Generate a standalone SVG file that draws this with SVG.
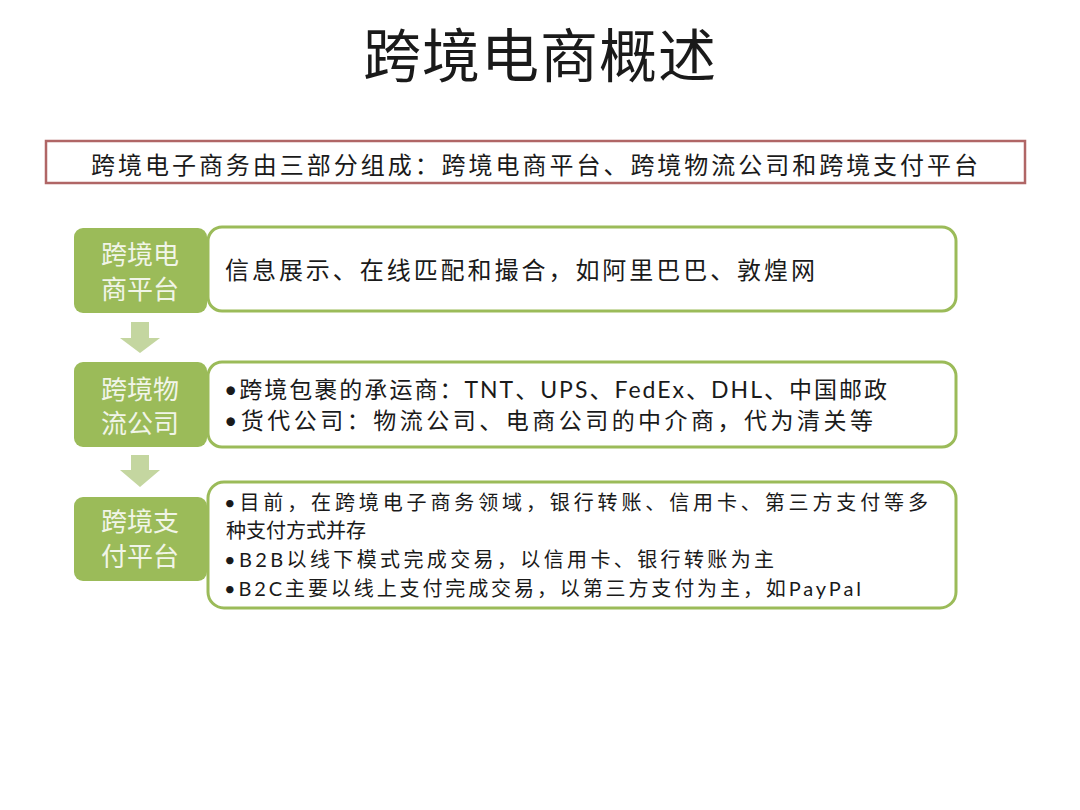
<svg xmlns="http://www.w3.org/2000/svg" width="1080" height="810" viewBox="0 0 1080 810">
<style>
.cjk{font-family:"Noto Sans CJK SC","Noto Sans",sans-serif;fill:#1a1a1a}
.mix{font-family:Lato,"Noto Sans CJK SC",sans-serif;fill:#1a1a1a}
.lbl{font-family:"Noto Sans CJK SC","Noto Sans",sans-serif;fill:#f1f5e8;font-size:26px;text-anchor:middle;dominant-baseline:central}
.gbox{fill:#9bbb59}
.wbox{fill:#ffffff;stroke:#9bbb59;stroke-width:3}
.arrow{fill:#c4d6a0}
</style>
<rect width="1080" height="810" fill="#ffffff"/>
<g id="title">
<text class="cjk" x="540" y="52" font-size="58" text-anchor="middle" dominant-baseline="central" fill="#111" letter-spacing="1">跨境电商概述</text>
</g>
<g id="summary">
<rect x="46" y="141" width="979" height="42" fill="#ffffff" stroke="#b06666" stroke-width="2.5"/>
<text class="cjk" x="91" y="163" font-size="24" dominant-baseline="central" textLength="887" lengthAdjust="spacing">跨境电子商务由三部分组成：跨境电商平台、跨境物流公司和跨境支付平台</text>
</g>
<g id="connectors">
<polygon class="arrow" points="131,322 149,322 149,338 160,338 140,353 120,338 131,338"/>
<polygon class="arrow" points="131,455 149,455 149,470 160,470 140,487 120,470 131,470"/>
</g>
<g id="node-platform">
<rect class="wbox" x="208" y="227" width="748" height="84" rx="14"/>
<rect class="gbox" x="74" y="228" width="133" height="85" rx="9"/>
<text class="lbl" x="140" y="252">跨境电</text>
<text class="lbl" x="140" y="287">商平台</text>
<text class="cjk" x="225" y="268" font-size="24" dominant-baseline="central" textLength="590" lengthAdjust="spacing">信息展示、在线匹配和撮合，如阿里巴巴、敦煌网</text>
</g>
<g id="node-logistics">
<rect class="wbox" x="208" y="362" width="748" height="85" rx="14"/>
<rect class="gbox" x="74" y="362" width="133" height="85" rx="9"/>
<text class="lbl" x="140" y="387">跨境物</text>
<text class="lbl" x="140" y="421">流公司</text>
<text class="mix" x="224" y="389" font-size="23" dominant-baseline="central" textLength="663" lengthAdjust="spacing">•跨境包裹的承运商：TNT、UPS、FedEx、DHL、中国邮政</text>
<text class="mix" x="224" y="420" font-size="23" dominant-baseline="central" textLength="649" lengthAdjust="spacing">•货代公司：物流公司、电商公司的中介商，代为清关等</text>
</g>
<g id="node-payment">
<rect class="wbox" x="208" y="482" width="748" height="126" rx="16"/>
<rect class="gbox" x="74" y="497" width="133" height="84" rx="9"/>
<text class="lbl" x="140" y="519.5">跨境支</text>
<text class="lbl" x="140" y="554">付平台</text>
<text class="mix" x="224" y="502" font-size="20" dominant-baseline="central" textLength="704" lengthAdjust="spacing">•目前，在跨境电子商务领域，银行转账、信用卡、第三方支付等多</text>
<text class="mix" x="226" y="530" font-size="20" dominant-baseline="central">种支付方式并存</text>
<text class="mix" x="224" y="559" font-size="20" dominant-baseline="central" textLength="550" lengthAdjust="spacing">•B2B以线下模式完成交易，以信用卡、银行转账为主</text>
<text class="mix" x="224" y="588" font-size="20" dominant-baseline="central" textLength="637" lengthAdjust="spacing">•B2C主要以线上支付完成交易，以第三方支付为主，如PayPal</text>
</g>
</svg>
